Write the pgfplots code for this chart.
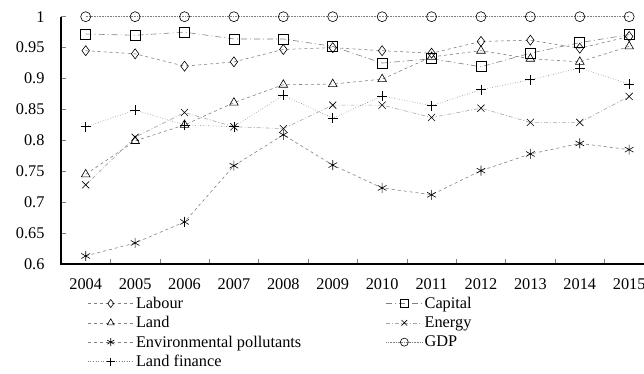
\documentclass[border=0pt]{standalone}
\usepackage{pgfplots}
\pgfplotsset{compat=1.18}
\usepackage{fontspec}
\setmainfont{Liberation Serif}
\pgfplotsset{
  longleg/.style={legend image code/.code={\draw[mark repeat=2,mark phase=2,##1,mark size=4pt] plot coordinates {(0pt,0pt)(23pt,0pt)(46pt,0pt)};}},
  shortleg/.style={legend image code/.code={\draw[mark repeat=2,mark phase=2,##1,mark size=4pt] plot coordinates {(0pt,0pt)(18pt,0pt)(36pt,0pt)};}},
}
\begin{document}
\begin{tikzpicture}
\begin{axis}[
  name=ax,
  scale only axis,
  width=583pt, height=247.3pt,
  xmin=-0.5, xmax=11.3,
  ymin=0.6, ymax=1,
  axis x line*=bottom,
  axis y line*=left,
  axis line style={black, line width=1.2pt},
  clip=false,
  xtick={0,...,11},
  xticklabels={2004,2005,2006,2007,2008,2009,2010,2011,2012,2013,2014,2015},
  minor xtick={0.5,1.5,...,10.5},
  xtick style={gray, line width=0.5pt},
  major x tick style={draw=none},
  ytick={0.6,0.65,...,1.01},
  yticklabels={0.6,0.65,0.7,0.75,0.8,0.85,0.9,0.95,1},
  ytick style={gray, line width=0.5pt},
  minor tick length=5pt,
  major tick length=5pt,
  tick align=inside,
  /pgf/number format/assume math mode=true,
  tick label style={font=\fontsize{16.3}{19}\selectfont},
  xticklabel style={yshift=-11pt},
  yticklabel style={xshift=-13pt},
  every axis plot/.append style={line width=0.6pt, mark size=5pt, mark options={solid, black, line width=0.6pt, fill=none}},
  legend columns=2,
  legend style={draw=none, fill=none, at={(0.045,-0.125)}, anchor=north west,
    font=\fontsize{16.3}{18.5}\selectfont, column sep=0pt, row sep=2.5pt,
    cells={anchor=west}, inner sep=0pt},
  longleg,
]
\addplot[gray, dashed, mark=diamond] coordinates {
(0,0.945)(1,0.940)(2,0.920)(3,0.927)(4,0.947)(5,0.950)(6,0.945)(7,0.941)(8,0.960)(9,0.962)(10,0.949)(11,0.968)};
\addlegendentry{\makebox[248pt][l]{Labour}}
\addplot[gray, dash pattern=on 6pt off 3pt on 1pt off 3pt, mark=square, shortleg] coordinates {
(0,0.972)(1,0.970)(2,0.975)(3,0.964)(4,0.964)(5,0.952)(6,0.925)(7,0.932)(8,0.919)(9,0.941)(10,0.958)(11,0.971)};
\addlegendentry{Capital}
\addplot[gray, dashed, mark=triangle] coordinates {
(0,0.745)(1,0.799)(2,0.825)(3,0.861)(4,0.890)(5,0.891)(6,0.899)(7,0.935)(8,0.945)(9,0.932)(10,0.927)(11,0.952)};
\addlegendentry{Land}
\addplot[gray!70, dash pattern=on 4pt off 2pt on 1pt off 2pt, mark=x, shortleg] coordinates {
(0,0.728)(1,0.805)(2,0.845)(3,0.822)(4,0.819)(5,0.857)(6,0.857)(7,0.837)(8,0.852)(9,0.829)(10,0.829)(11,0.871)};
\addlegendentry{Energy}
\addplot[gray, dashed, mark=asterisk] coordinates {
(0,0.613)(1,0.634)(2,0.668)(3,0.759)(4,0.809)(5,0.760)(6,0.723)(7,0.712)(8,0.751)(9,0.778)(10,0.795)(11,0.785)};
\addlegendentry{Environmental pollutants}
\addplot[gray, densely dotted, mark=o, shortleg] coordinates {
(0,1)(1,1)(2,1)(3,1)(4,1)(5,1)(6,1)(7,1)(8,1)(9,1)(10,1)(11,1)};
\addlegendentry{GDP}
\addplot[gray, dotted, mark=+] coordinates {
(0,0.822)(1,0.849)(2,0.825)(3,0.822)(4,0.873)(5,0.836)(6,0.872)(7,0.856)(8,0.882)(9,0.898)(10,0.917)(11,0.891)};
\addlegendentry{Land finance}
\coordinate (ll) at (rel axis cs:0,0);
\end{axis}
\draw[black, line width=1.2pt] ([yshift=247.3pt]ll) -- (ll) -- ([xshift=583pt]ll);
\pgfresetboundingbox
\useasboundingbox ([xshift=-61pt,yshift=-109pt]ll) rectangle ([xshift=583pt,yshift=264pt]ll);
\end{tikzpicture}
\end{document}
